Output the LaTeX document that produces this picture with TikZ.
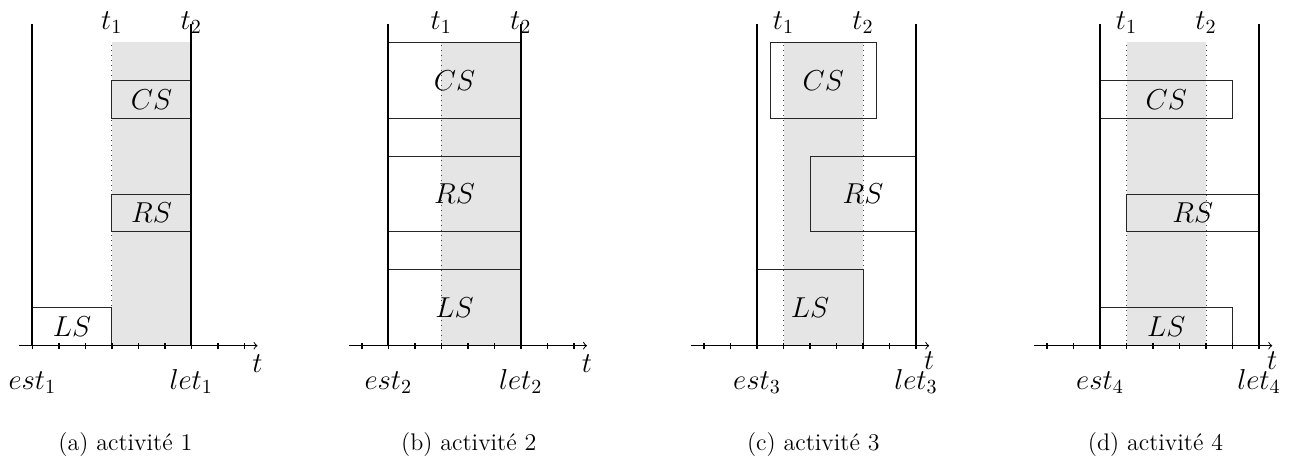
\documentclass[tikz,border=0pt]{standalone}
\begin{document}
\begin{tikzpicture}[
  lbl/.style={font=\fontsize{14.4}{17}\selectfont, inner sep=0pt},
  lblb/.style={lbl, anchor=base},
  subcap/.style={font=\fontsize{12}{14}\selectfont, inner sep=0pt, anchor=base},
  bound/.style={line width=1pt},
  taskbox/.style={draw=black!85, line width=0.5pt},
  win/.style={fill=gray!20, draw=none},
  markline/.style={dotted, draw=black!75, line width=0.5pt},
  axisline/.style={->, line width=0.5pt},
  tickmark/.style={line width=0.7pt},
]
\useasboundingbox (0,0) rectangle (645pt,-232pt);

% ---------- panel (a)
\begin{scope}[shift={(16.15pt,-172.85pt)}, x=13.25pt, y=18.95pt]
  \fill[win] (3,0) rectangle (6,8);
  \draw[markline] (3,0) -- (3,8);
  \draw[taskbox] (0,0) rectangle (3,1);
  \draw[taskbox] (3,6) rectangle (6,7);
  \draw[taskbox] (3,3) rectangle (6,4);
  \node[lbl] (csa) at (4.5,6.5) {$CS$};
  \node[lbl] (rsa) at (4.5,3.5) {$RS$};
  \node[lbl] (lsa) at (1.5,0.5) {$LS$};
  \coordinate (esta) at (0,0);
  \coordinate (esta top) at (0,8.5);
  \coordinate (leta) at (6,0);
  \coordinate (leta top) at (6,8.5);
  \draw[bound] (esta) -- (esta top);
  \draw[bound] (leta) -- (leta top);
  \coordinate (axa s) at (-0.5,0);
  \coordinate (axa e) at (8.5,0);
  \draw[axisline] (axa s) -- (axa e);
  \foreach \i in {0,...,8} \draw[tickmark] (\i,-0.08) -- (\i,0.06);
  \node[lblb] (t1a) at (3,8.35) {$t_1$};
  \node[lblb] (t2a) at (6,8.35) {$t_2$};
  \node[lblb] (ta) at (8.5,-0.7) {$t$};
  \node[lblb] (esta lbl) at (0,-1.15) {$est_1$};
  \node[lblb] (leta lbl) at (6,-1.15) {$let_1$};
\end{scope}

% ---------- panel (b)
\begin{scope}[shift={(194.15pt,-172.85pt)}, x=13.25pt, y=18.95pt]
  \fill[win] (2,0) rectangle (5,8);
  \draw[markline] (2,0) -- (2,8);
  \draw[taskbox] (0,0) rectangle (5,2);
  \draw[taskbox] (0,3) rectangle (5,5);
  \draw[taskbox] (0,6) rectangle (5,8);
  \node[lbl] (csb) at (2.5,7) {$CS$};
  \node[lbl] (rsb) at (2.5,4) {$RS$};
  \node[lbl] (lsb) at (2.5,1) {$LS$};
  \coordinate (estb) at (0,0);
  \coordinate (estb top) at (0,8.5);
  \coordinate (letb) at (5,0);
  \coordinate (letb top) at (5,8.5);
  \draw[bound] (estb) -- (estb top);
  \draw[bound] (letb) -- (letb top);
  \coordinate (axb s) at (-1.5,0);
  \coordinate (axb e) at (7.5,0);
  \draw[axisline] (axb s) -- (axb e);
  \foreach \i in {-1,...,7} \draw[tickmark] (\i,-0.08) -- (\i,0.06);
  \node[lblb] (t1b) at (2,8.35) {$t_1$};
  \node[lblb] (t2b) at (5,8.35) {$t_2$};
  \node[lblb] (tb) at (7.5,-0.7) {$t$};
  \node[lblb] (estb lbl) at (0,-1.15) {$est_2$};
  \node[lblb] (letb lbl) at (5,-1.15) {$let_2$};
\end{scope}

% ---------- panel (c)
\begin{scope}[shift={(378.5pt,-172.85pt)}, x=13.25pt, y=18.95pt]
  \fill[win] (1,0) rectangle (4,8);
  \draw[markline] (1,0) -- (1,8);
  \draw[markline] (4,0) -- (4,8);
  \draw[taskbox] (0.5,6) rectangle (4.5,8);
  \draw[taskbox] (2,3) rectangle (6,5);
  \draw[taskbox] (0,0) rectangle (4,2);
  \node[lbl] (csc) at (2.5,7) {$CS$};
  \node[lbl] (rsc) at (4,4) {$RS$};
  \node[lbl] (lsc) at (2,1) {$LS$};
  \coordinate (estc) at (0,0);
  \coordinate (estc top) at (0,8.5);
  \coordinate (letc) at (6,0);
  \coordinate (letc top) at (6,8.5);
  \draw[bound] (estc) -- (estc top);
  \draw[bound] (letc) -- (letc top);
  \coordinate (axc s) at (-2.5,0);
  \coordinate (axc e) at (6.5,0);
  \draw[axisline] (axc s) -- (axc e);
  \foreach \i in {-2,...,6} \draw[tickmark] (\i,-0.08) -- (\i,0.06);
  \node[lblb] (t1c) at (1,8.35) {$t_1$};
  \node[lblb] (t2c) at (4,8.35) {$t_2$};
  \node[lblb] (tc) at (6.5,-0.62) {$t$};
  \node[lblb] (estc lbl) at (0,-1.15) {$est_3$};
  \node[lblb] (letc lbl) at (6,-1.15) {$let_3$};
\end{scope}

% ---------- panel (d)
\begin{scope}[shift={(550pt,-172.85pt)}, x=13.25pt, y=18.95pt]
  \fill[win] (1,0) rectangle (4,8);
  \draw[markline] (1,0) -- (1,8);
  \draw[markline] (4,0) -- (4,8);
  \draw[taskbox] (0,6) rectangle (5,7);
  \draw[taskbox] (1,3) rectangle (6,4);
  \draw[taskbox] (0,0) rectangle (5,1);
  \node[lbl] (csd) at (2.5,6.5) {$CS$};
  \node[lbl] (rsd) at (3.5,3.5) {$RS$};
  \node[lbl] (lsd) at (2.5,0.5) {$LS$};
  \coordinate (estd) at (0,0);
  \coordinate (estd top) at (0,8.5);
  \coordinate (letd) at (6,0);
  \coordinate (letd top) at (6,8.5);
  \draw[bound] (estd) -- (estd top);
  \draw[bound] (letd) -- (letd top);
  \coordinate (axd s) at (-2.5,0);
  \coordinate (axd e) at (6.5,0);
  \draw[axisline] (axd s) -- (axd e);
  \foreach \i in {-2,...,6} \draw[tickmark] (\i,-0.08) -- (\i,0.06);
  \node[lblb] (t1d) at (1,8.35) {$t_1$};
  \node[lblb] (t2d) at (4,8.35) {$t_2$};
  \node[lblb] (td) at (6.5,-0.62) {$t$};
  \node[lblb] (estd lbl) at (0,-1.15) {$est_4$};
  \node[lblb] (letd lbl) at (6,-1.15) {$let_4$};
\end{scope}

% ---------- captions
\node[subcap] (capa) at (62.7pt,-225.5pt) {(a) activité 1};
\node[subcap] (capb) at (234.4pt,-225.5pt) {(b) activité 2};
\node[subcap] (capc) at (406.65pt,-225.5pt) {(c) activité 3};
\node[subcap] (capd) at (577.75pt,-225.5pt) {(d) activité 4};
\end{tikzpicture}
\end{document}
